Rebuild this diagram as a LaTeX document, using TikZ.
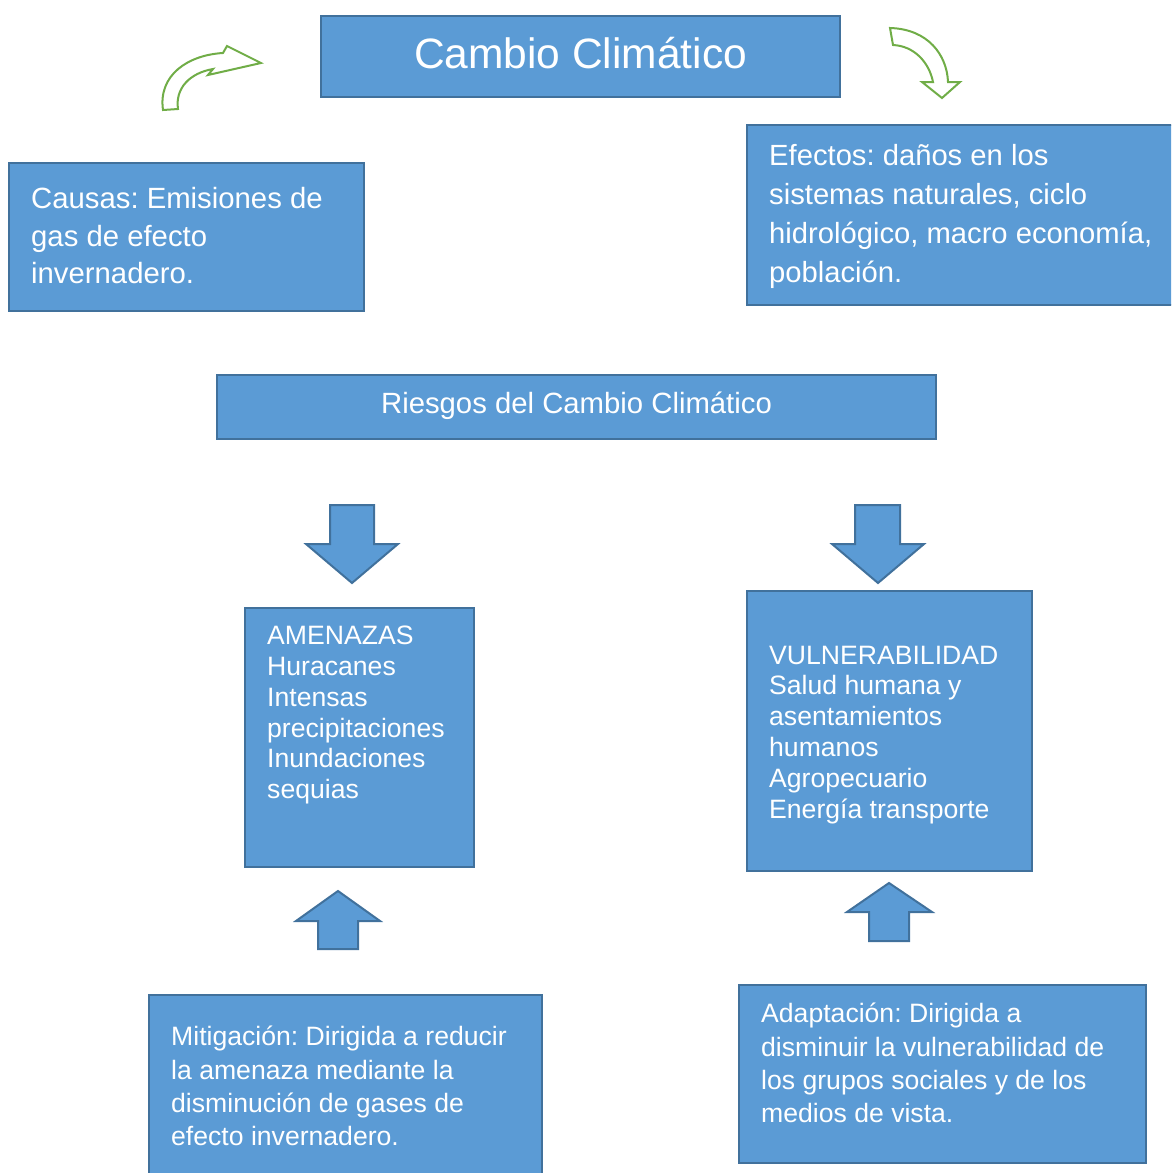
\documentclass[tikz,border=0pt]{standalone}
\usepackage{fontspec}
\setmainfont{Liberation Sans}
\frenchspacing
\usetikzlibrary{positioning}
\definecolor{boxfill}{HTML}{5B9BD5}
\definecolor{boxline}{HTML}{41719C}
\definecolor{leafgreen}{HTML}{70AD47}
\tikzset{
    box/.style={draw=boxline, fill=boxfill, line width=2pt, inner sep=0pt},
    boxtext/.style={text=white, align=left, inner sep=0pt, anchor=north west},
    blockarrow/.style={draw=boxline, fill=boxfill, line width=2pt, line join=miter},
    curvearrow/.style={draw=leafgreen, fill=white, line width=2pt, line join=miter}
}
\newcommand{\bigfont}{\fontsize{29.3}{37.5}\selectfont}
\newcommand{\smallfont}{\fontsize{26.6}{30.8}\selectfont}
\newcommand{\lowfont}{\fontsize{26.6}{33.3}\selectfont}
\begin{document}
\begin{tikzpicture}[x=1pt, y=-1pt]
    \useasboundingbox (0, 0) rectangle (1171, 1173);
    \clip (0, 0) rectangle (1171, 1173);
    % boxes
    \node [box, minimum width=519, minimum height=81] (titulo) at (580.5, 56.5) {};
    \node [box, minimum width=355, minimum height=148] (causas) at (186.5, 237) {};
    \node [box, minimum width=443, minimum height=180] (efectos) at (968.5, 215) {};
    \node [box, minimum width=719, minimum height=64] (riesgos) at (576.5, 407) {};
    \node [box, minimum width=229, minimum height=259] (amenazas) at (359.5, 737.5) {};
    \node [box, minimum width=285, minimum height=280] (vulner) at (889.5, 731) {};
    \node [box, minimum width=393, minimum height=195] (mitig) at (345.5, 1092.5) {};
    \node [box, minimum width=407, minimum height=178] (adapt) at (942.5, 1074) {};
    % texts
    \node [text=white, inner sep=0pt, anchor=base, font=\fontsize{42.5}{50}\selectfont]
        (tituloT) at ([yshift=-12pt]titulo.center) {Cambio Climático};
    \node [text=white, inner sep=0pt, anchor=base, font=\bigfont]
        (riesgosT) at ([yshift=-6pt]riesgos.center) {Riesgos del Cambio Climático};
    \node [boxtext, font=\bigfont, below right=25.5pt and 23pt of causas.north west]
        (causasT) {Causas: Emisiones de\\gas de efecto\\invernadero.};
    \node [boxtext, font=\fontsize{29.2}{39}\selectfont, below right=20.5pt and 23pt of efectos.north west]
        (efectosT) {Efectos: daños en los\\sistemas naturales, ciclo\\hidrológico, macro economía,\\población.};
    \node [boxtext, font=\smallfont, below right=19pt and 23pt of amenazas.north west]
        (amenazasT) {AMENAZAS\\Huracanes\\Intensas\\precipitaciones\\Inundaciones\\sequias};
    \node [boxtext, font=\smallfont, below right=55.5pt and 23pt of vulner.north west]
        (vulnerT) {VULNERABILIDAD\\Salud humana y\\asentamientos\\humanos\\Agropecuario\\Energía transporte};
    \node [boxtext, font=\lowfont, below right=32pt and 23pt of mitig.north west]
        (mitigT) {Mitigación: Dirigida a reducir\\la amenaza mediante la\\disminución de gases de\\efecto invernadero.};
    \node [boxtext, font=\lowfont, below right=19pt and 23pt of adapt.north west]
        (adaptT) {Adaptación: Dirigida a\\disminuir la vulnerabilidad de\\los grupos sociales y de los\\medios de vista.};
    % block arrows
    \draw [blockarrow] (330, 505) -- (374, 505) -- (374, 544) -- (398, 544) --
            (352, 583) -- (306, 544) -- (330, 544) -- cycle;
    \draw [blockarrow] (855, 505) -- (900, 505) -- (900, 544) -- (924, 544) --
            (878, 583) -- (832, 544) -- (855, 544) -- cycle;
    \draw [blockarrow] (338, 891) -- (380, 921) -- (358, 921) -- (358, 949) --
            (318, 949) -- (318, 921) -- (296, 921) -- cycle;
    \draw [blockarrow] (889, 883) -- (932, 912) -- (909, 912) -- (909, 941) --
            (869, 941) -- (869, 912) -- (847, 912) -- cycle;
    % curved arrows
    \draw [curvearrow] (163, 110) .. controls (158, 75) and (188, 55) .. (223, 53) --
            (227, 46) -- (261, 63) -- (208, 75) -- (213, 69)
            .. controls (190, 73) and (175, 88) .. (178, 109) -- cycle;
    \draw [curvearrow] (890, 28) .. controls (928, 29) and (947, 55) .. (948, 82) --
            (960, 82) -- (942, 98) -- (922, 82) -- (933, 82)
            .. controls (929, 62) and (914, 46) .. (893, 45) -- cycle;
\end{tikzpicture}
\end{document}
